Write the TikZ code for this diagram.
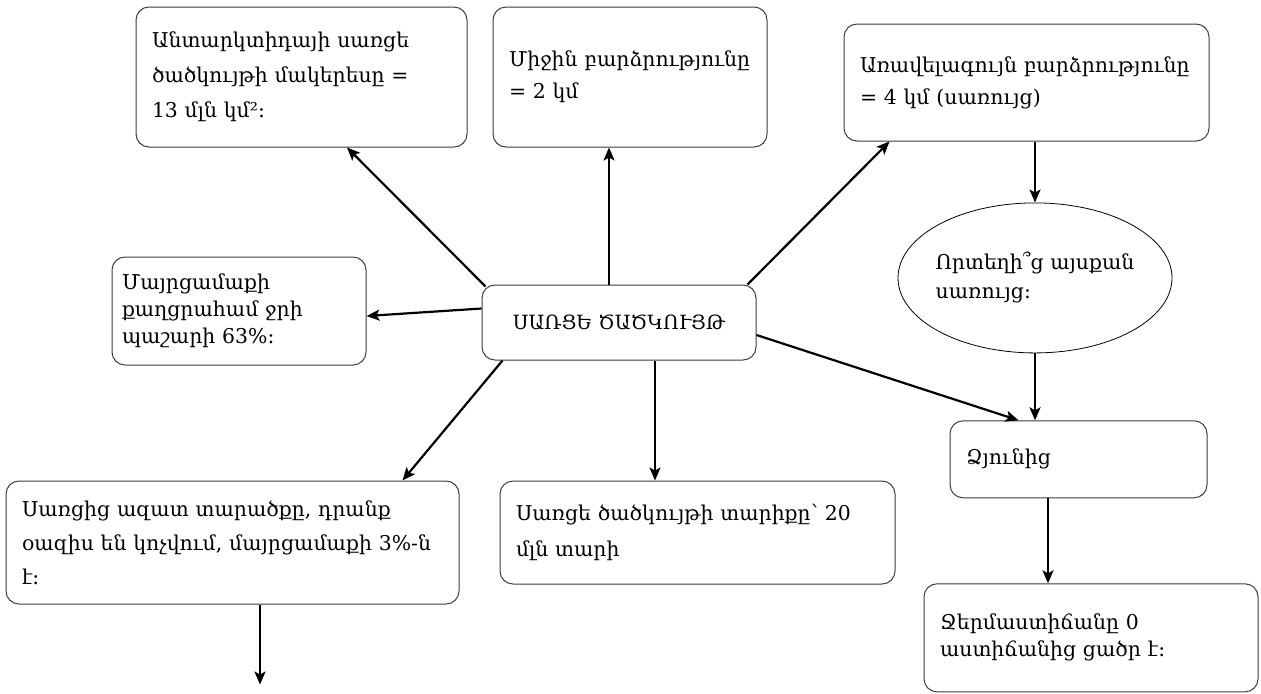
\documentclass[tikz,border=0pt]{standalone}
\usepackage{fontspec}
\setmainfont{DejaVu Serif}
\usepackage{tikz}
\usetikzlibrary{shapes.geometric, arrows.meta, positioning, calc}
\definecolor{iceborder}{RGB}{60,60,60}

\begin{document}
\begin{tikzpicture}[
  fact/.style={rectangle, draw=iceborder, line width=0.5pt, rounded corners=6.5pt, align=left, inner xsep=8pt, font=\fontsize{10.2}{16}\selectfont},
  hub/.style={rectangle, draw=iceborder, line width=0.5pt, rounded corners=6.5pt, align=center, minimum width=137pt, minimum height=37.5pt, font=\fontsize{9.8}{14}\selectfont},
  ask/.style={ellipse, draw=black, line width=0.4pt, align=left, inner xsep=-1.5pt, inner ysep=0pt, minimum width=137pt, minimum height=75pt, font=\fontsize{10.2}{14.5}\selectfont},
  arr/.style={-{Stealth[length=6.5pt, width=5.5pt, inset=1.5pt]}, line width=1.1pt}
]
\useasboundingbox (0,0) rectangle (630.5pt,-346.5pt);
\node[hub] (ctr) at (309.5pt,-161.25pt) {ՍԱՌՑԵ ԾԱԾԿՈՒՅԹ};
\node[fact, text width=149.5pt, minimum height=70pt, above left=68.5pt and 7pt of ctr, font=\fontsize{10.2}{17.5}\selectfont] (area) {Անտարկտիդայի սառցե\\ծածկույթի~մակերեսը~=\\13 մլն կմ²:};
\node[fact, text width=121pt, minimum height=70pt, above=68.5pt of ctr, xshift=5.5pt] (mean) {Միջին~բարձրությունը\\= 2 կմ};
\node[fact, text width=166.5pt, minimum height=58.5pt, above right=71.5pt and 43.5pt of ctr] (maxh) {Առավելագույն~բարձրությունը\\= 4 կմ (սառույց)};
\node[ask, below=30.5pt of maxh, xshift=4.25pt] (ques) {Որտեղի՞ց այսքան\\սառույց:};
\node[fact, text width=112.5pt, minimum height=38.5pt, below=33.5pt of ques, xshift=21.75pt] (zyun) {Ձյունից};
\node[fact, text width=151pt, minimum height=54pt, below=42.5pt of zyun, xshift=6.25pt, font=\fontsize{10.2}{13.5}\selectfont] (temp) {Ջերմաստիճանը 0\\աստիճանից ցածր է:};
\node[fact, inner xsep=5pt, text width=117pt, minimum height=54pt, left=57.5pt of ctr, yshift=5.75pt, font=\fontsize{10.2}{13.5}\selectfont] (mayr) {Մայրցամաքի\\քաղցրահամ ջրի\\պաշարի 63\%:};
\node[fact, text width=210.5pt, minimum height=61.5pt, below left=60pt and 11pt of ctr, font=\fontsize{10.2}{17}\selectfont] (free) {Սառցից ազատ տարածքը, դրանք\\օազիս~են~կոչվում,~մայրցամաքի~3\%-ն\\է:};
\node[fact, text width=181.5pt, minimum height=51.5pt, below=60pt of ctr, xshift=39.25pt, font=\fontsize{10.2}{18}\selectfont] (age) {Սառցե~ծածկույթի~տարիքը՝~20\\մլն տարի};
\coordinate[below=40pt of free.south, xshift=13.75pt] (drop);
% from the centre
\draw[arr] ([shift={(2pt,-1pt)}]ctr.north west) -- ([xshift=22.75pt]area.south);
\draw[arr] ([xshift=-5pt]ctr.north) -- ([xshift=-5pt]ctr.north |- mean.south);
\draw[arr] ([xshift=-4.5pt]ctr.north east) -- ([xshift=23pt]maxh.south west);
\draw[arr] ([yshift=7pt]ctr.west) -- ([yshift=-2.5pt]mayr.east);
\draw[arr] ([xshift=10.5pt]ctr.south west) -- ([xshift=-28.5pt]free.north east);
\draw[arr] ([xshift=18pt]ctr.south) -- ([xshift=18pt]ctr.south |- age.north);
\draw[arr] ([yshift=-6.25pt]ctr.east) -- ([xshift=34.5pt]zyun.north west);
% right column
\draw[arr] (ques.north |- maxh.south) -- (ques.north);
\draw[arr] (ques.south) -- (ques.south |- zyun.north);
\draw[arr] ([xshift=-15.25pt]zyun.south) -- ([xshift=-15.25pt]zyun.south |- temp.north);
\draw[arr] (free.south -| drop) -- (drop);
\end{tikzpicture}
\end{document}
